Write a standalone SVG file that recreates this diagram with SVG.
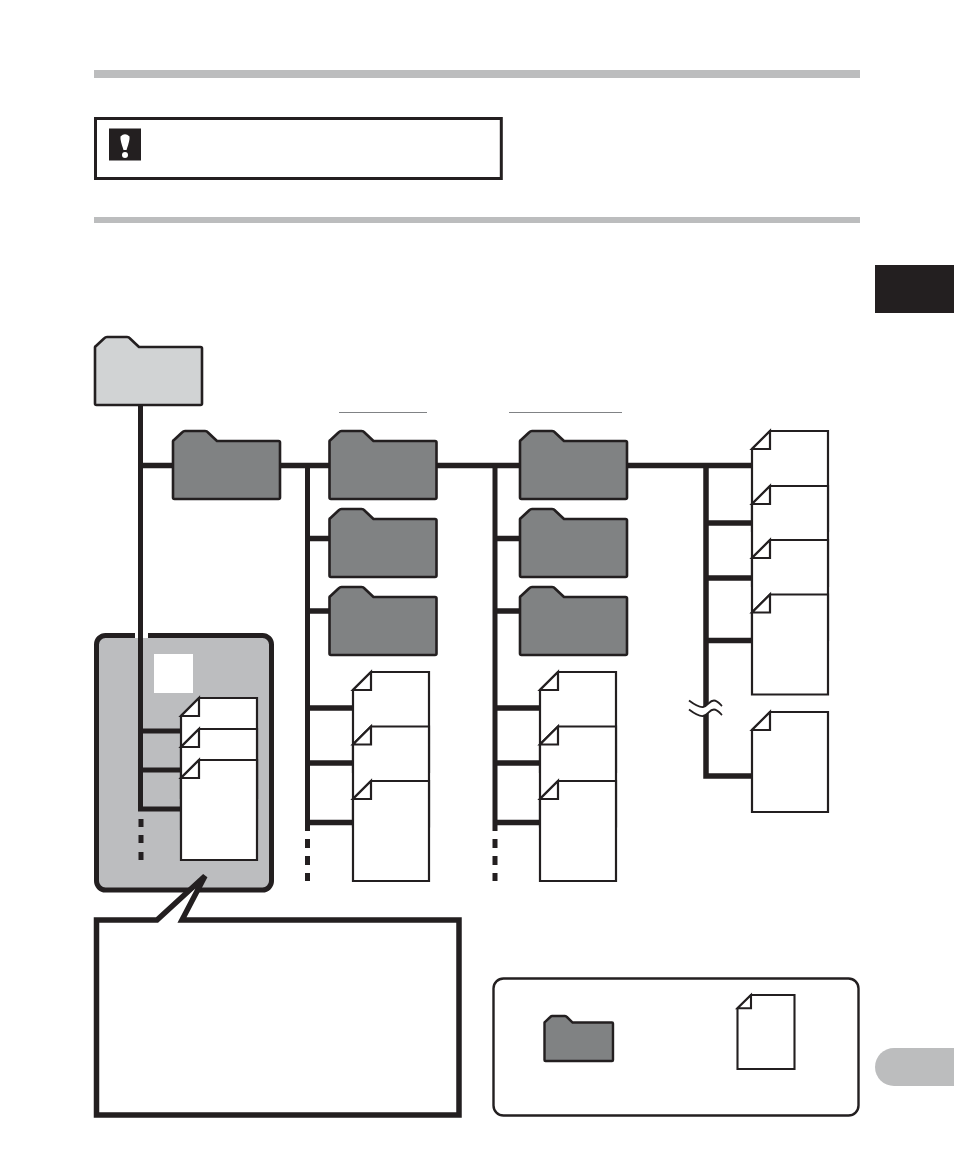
<svg xmlns="http://www.w3.org/2000/svg" width="954" height="1157" viewBox="0 0 954 1157">
<style>
.bar{fill:#bcbdbe}
.folder{stroke:#231f20;stroke-width:2.6;stroke-linejoin:round}
.dark{fill:#808283}
.doc{fill:#fff;stroke:#231f20;stroke-width:2.200;stroke-linejoin:miter}
.doc2{fill:#fff;stroke:#231f20;stroke-width:2.800;stroke-linejoin:miter}
.thick{fill:none;stroke:#231f20;stroke-width:5.5;stroke-linejoin:miter}
.mid{fill:none;stroke:#231f20;stroke-width:5;stroke-linejoin:miter}
.dash{fill:none;stroke:#231f20;stroke-width:5}
.over{stroke:#808285;stroke-width:1}
.wave{fill:none;stroke:#231f20;stroke-width:1.800}
</style>
<defs>
<path id="fold" d="M0,10V66.500Q0,68 1.500,68H105.500Q107,68 107,66.500V11.500Q107,10 105.500,10H44L35,1.500Q34,0 32,0H12Q10.500,0 9,1.500L1,9Q0,9.500 0,10Z"/>
<g id="page">
<path class="doc" d="M18,0H76V100H0V18Z"/>
<path class="doc" d="M18,0V18H0Z"/>
</g>
<g id="page-small">
<path class="doc2" d="M18,0H76V100H0V18Z"/>
<path class="doc2" d="M18,0V18H0Z"/>
</g>
</defs>
<rect width="954" height="1157" fill="#fff"/>
<rect id="rule-top" class="bar" x="94" y="70" width="766" height="8"/>
<rect id="rule-second" class="bar" x="94" y="217" width="766" height="6"/>
<rect id="side-tab" x="875" y="265" width="79" height="48" fill="#231f20"/>
<path id="side-pill" class="bar" d="M954,1048H894A19,19 0 0 0 894,1086H954Z"/>
<g id="notice">
<rect x="95.500" y="118.500" width="405.800" height="60" fill="#fff" stroke="#231f20" stroke-width="3"/>
<rect x="109" y="128.500" width="32" height="32" fill="#231f20"/>
<path d="M120.500,136.500Q125,132 129.500,136.500Q130,140 126.500,150H123.500Q120,140 120.500,136.500Z" fill="#fff"/>
<circle cx="125" cy="155" r="3" fill="#fff"/>
</g>
<line class="over" x1="339" y1="412.500" x2="427" y2="412.500"/>
<line class="over" x1="509" y1="412.500" x2="622" y2="412.500"/>
<g id="panel">
<rect x="96.500" y="635.500" width="175" height="254.500" rx="9" fill="#bcbdbf" stroke="#231f20" stroke-width="5"/>
<rect x="135" y="632" width="13" height="6" fill="#fff"/>
<rect x="154" y="654" width="39" height="39" fill="#fff"/>
</g>
<g id="connectors">
<path class="mid" d="M140.500,405V809H181"/>
<path class="mid" d="M140.500,731H181M140.500,770H181"/>
<path class="thick" d="M141,465.500H173M280,465.500H329M437,465.500H520M627,465.500H752"/>
<path class="mid" d="M307.500,465V831M495,465V831"/>
<path class="thick" d="M307.500,538.500H329M307.500,611H329M307.500,708H353M307.500,763H353M307.500,822.500H353"/>
<path class="thick" d="M495,538.500H520M495,611H520M495,708H540M495,763H540M495,822.500H540"/>
<path class="thick" d="M706,465.500V776H752M706,523H752M706,578H752M706,640.500H752"/>
<path class="dash" d="M141,819V827M141,835V843M141,852V860"/>
<path class="dash" d="M307.500,839V848M307.500,856V865M307.500,873V881"/>
<path class="dash" d="M495,839V848M495,856V865M495,873V881"/>
<path d="M689,700.500C695,705 699,707.500 703,707C708,706.500 709,700.500 714,700.500C717,700.500 719,703 722,706V715C719,712 717,709.500 714,709.500C709,709.500 708,715.500 703,716C699,716.500 695,714 689,709.500Z" fill="#fff"/>
<path class="wave" d="M689,700.500C695,705 699,707.500 703,707C708,706.500 709,700.500 714,700.500C717,700.500 719,703 722,706"/>
<path class="wave" d="M689,709.500C695,714 699,716.500 703,716C708,715.500 709,709.500 714,709.500C717,709.500 719,712 722,715"/>
</g>
<use id="folder-root" href="#fold" x="95" y="337" class="folder" fill="#d1d3d4"/>
<use id="folder-a" href="#fold" x="173" y="431" class="folder dark"/>
<use id="folder-b1" href="#fold" x="329.500" y="431" class="folder dark"/>
<use id="folder-b2" href="#fold" x="329.500" y="509" class="folder dark"/>
<use id="folder-b3" href="#fold" x="329.500" y="587" class="folder dark"/>
<use id="folder-c1" href="#fold" x="520" y="431" class="folder dark"/>
<use id="folder-c2" href="#fold" x="520" y="509" class="folder dark"/>
<use id="folder-c3" href="#fold" x="520" y="587" class="folder dark"/>
<use id="doc-p1" href="#page" x="181" y="698"/>
<use id="doc-p2" href="#page" x="181" y="729"/>
<use id="doc-p3" href="#page" x="181" y="760"/>
<use id="doc-b1" href="#page" x="353" y="672"/>
<use id="doc-b2" href="#page" x="353" y="726.500"/>
<use id="doc-b3" href="#page" x="353" y="781"/>
<use id="doc-c1" href="#page" x="540" y="672"/>
<use id="doc-c2" href="#page" x="540" y="726.500"/>
<use id="doc-c3" href="#page" x="540" y="781"/>
<use id="doc-d1" href="#page" x="752" y="431"/>
<use id="doc-d2" href="#page" x="752" y="486"/>
<use id="doc-d3" href="#page" x="752" y="540"/>
<use id="doc-d4" href="#page" x="752" y="594.500"/>
<use id="doc-d5" href="#page" x="752" y="712"/>
<g id="callout">
<path d="M96.500,920H157L205,876L182,920H459V1115H96.500Z" fill="#fff" stroke="#231f20" stroke-width="5.500" stroke-linejoin="miter" stroke-miterlimit="3"/>
</g>
<g id="legend">
<rect x="493.500" y="978.500" width="365" height="137" rx="10" fill="#fff" stroke="#231f20" stroke-width="2.400"/>
<use id="legend-folder" href="#fold" transform="translate(544.500 1016) scale(.64 .66)" class="folder dark" style="stroke-width:3.800"/>
<use id="legend-doc" href="#page-small" transform="translate(737.500 995) scale(.75 .74)"/>
</g>
</svg>
